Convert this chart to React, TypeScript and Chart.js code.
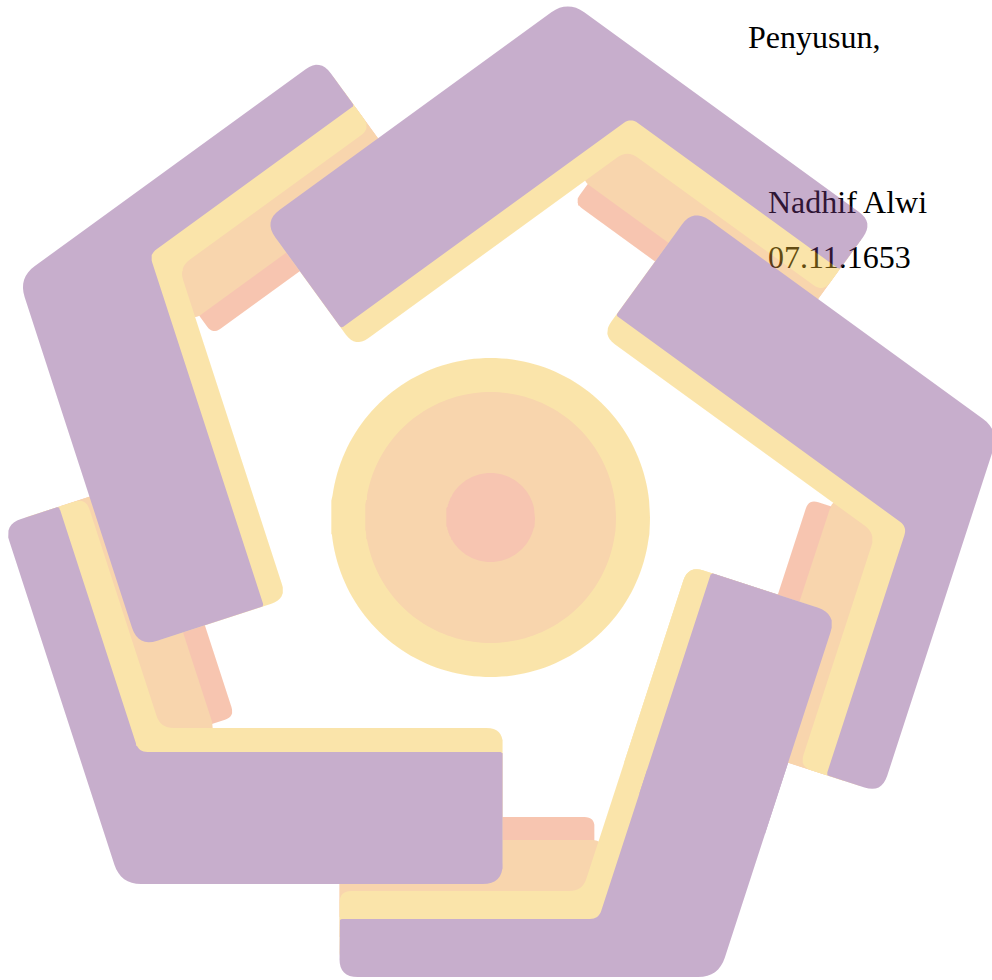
import { useEffect, useRef } from 'react';
import { Chart, registerables } from 'chart.js';

Chart.register(...registerables);

const PAGE_WIDTH = 992;
const PAGE_HEIGHT = 980;

// Five bent arms of the emblem: bottom, lower-left, upper-left, top, right
const armNames = ['bottom', 'lower-left', 'upper-left', 'top', 'right'];
const armCornerX = [718.5, 120.7, 18.4, 567.8, 999.3];
const armCornerY = [977, 884, 277.9, 0.4, 430.7];
const armTurnDeg = [0, 72, 144, 216, 288];
const thinLegLength = [379, 378, 373, 378, 381];
const thickLegLength = [382, 382, 388, 376, 378];

// Layers of each arm, back to front
const layerNames = ['salmon', 'peach', 'yellow', 'purple'];
const layerInk = ['rgb(237,113,60)', 'rgb(238,153,53)', 'rgb(245,190,45)', 'rgb(118,55,130)'];
const thinBandFrom = [60, 40, 15, 0];
const thinBandTo = [160, 137, 86, 58];
const thinBandStart = [124, 116, 0, 0];
const thickBandFrom = [0, 0, 15, 0];
const thickBandTo = [0, 0, 156, 132];
const thickRedrawStart = [0, 0, 175, 150];

// Central disc
const ringNames = ['outer', 'middle', 'core'];
const ringRadius = [159.5, 125.5, 44.5];
const ringInk = ['rgb(245,190,45)', 'rgb(238,152,53)', 'rgb(236,112,62)'];
const ringCenterX = 490.5;
const ringCenterY = 517.5;

// Signature text
const signatureLines = ['Penyusun,', 'Nadhif Alwi', '07.11.1653'];
const signatureLeft = [748, 768, 768];
const signatureBaseline = [47.7, 212.3, 267.7];

const WATERMARK_OPACITY = 0.4;

type Pt = { x: number; y: number };
const rad = (d: number) => (d * Math.PI) / 180;
const turn = (v: Pt, deg: number): Pt => {
  const c = Math.cos(rad(deg));
  const s = Math.sin(rad(deg));
  return { x: v.x * c - v.y * s, y: v.x * s + v.y * c };
};

function frame(i: number) {
  const a = rad(72);
  const phi = armTurnDeg[i];
  return {
    v: { x: armCornerX[i], y: armCornerY[i] },
    t: turn({ x: -1, y: 0 }, phi),
    nt: turn({ x: 0, y: -1 }, phi),
    h: turn({ x: Math.cos(a), y: -Math.sin(a) }, phi),
    nh: turn({ x: -Math.sin(a), y: -Math.cos(a) }, phi),
  };
}
type Frame = ReturnType<typeof frame>;

const along = (f: Frame, dir: Pt, s: number, n: Pt, o: number): Pt => ({
  x: f.v.x + dir.x * s + n.x * o,
  y: f.v.y + dir.y * s + n.y * o,
});

function cornerAt(f: Frame, oT: number, oH: number): Pt {
  const det = f.nt.x * f.nh.y - f.nt.y * f.nh.x;
  const dx = (oT * f.nh.y - f.nt.y * oH) / det;
  const dy = (f.nt.x * oH - f.nh.x * oT) / det;
  return { x: f.v.x + dx, y: f.v.y + dy };
}

function rounded(pts: Pt[], radii: number[], steps = 8): Pt[] {
  const out: Pt[] = [];
  const n = pts.length;
  for (let i = 0; i < n; i++) {
    const v = pts[i];
    const p = pts[(i - 1 + n) % n];
    const q = pts[(i + 1) % n];
    const r = radii[i] || 0;
    if (r <= 0) {
      out.push({ x: v.x, y: v.y });
      continue;
    }
    const lp = Math.hypot(p.x - v.x, p.y - v.y);
    const lq = Math.hypot(q.x - v.x, q.y - v.y);
    const a = { x: (p.x - v.x) / lp, y: (p.y - v.y) / lp };
    const b = { x: (q.x - v.x) / lq, y: (q.y - v.y) / lq };
    const cos = Math.max(-1, Math.min(1, a.x * b.x + a.y * b.y));
    const th = Math.acos(cos);
    let d = r / Math.tan(th / 2);
    d = Math.min(d, lp / 2, lq / 2);
    const t1 = { x: v.x + a.x * d, y: v.y + a.y * d };
    const t2 = { x: v.x + b.x * d, y: v.y + b.y * d };
    for (let k = 0; k <= steps; k++) {
      const u = k / steps;
      out.push({
        x: (1 - u) * (1 - u) * t1.x + 2 * u * (1 - u) * v.x + u * u * t2.x,
        y: (1 - u) * (1 - u) * t1.y + 2 * u * (1 - u) * v.y + u * u * t2.y,
      });
    }
  }
  out.push({ ...out[0] });
  return out;
}

function chevron(i: number, layer: number): Pt[] {
  const f = frame(i);
  const LT = thinLegLength[i];
  const LH = thickLegLength[i];
  const aT = thinBandFrom[layer];
  const bT = thinBandTo[layer];
  const aH = thickBandFrom[layer];
  const bH = thickBandTo[layer];
  const pts = [
    along(f, f.t, LT, f.nt, aT),
    cornerAt(f, aT, aH),
    along(f, f.h, LH, f.nh, aH),
    along(f, f.h, LH, f.nh, bH),
    cornerAt(f, bT, bH),
    along(f, f.t, LT, f.nt, bT),
  ];
  const radii = layer === 3 ? [18, 28, 20, 3, 12, 3] : [10, 18, 10, 16, 18, 12];
  return rounded(pts, radii);
}

function thinBand(i: number, layer: number): Pt[] {
  const f = frame(i);
  const s0 = thinBandStart[layer];
  const LT = thinLegLength[i];
  const a = thinBandFrom[layer];
  const b = thinBandTo[layer];
  const pts = [
    along(f, f.t, s0, f.nt, a),
    along(f, f.t, LT, f.nt, a),
    along(f, f.t, LT, f.nt, b),
    along(f, f.t, s0, f.nt, b),
  ];
  return rounded(pts, [0, 0, 12, 10]);
}

function thickBand(i: number, layer: number): Pt[] {
  const f = frame(i);
  const s0 = thickRedrawStart[layer];
  const LH = thickLegLength[i];
  const a = thickBandFrom[layer];
  const b = thickBandTo[layer];
  const pts = [
    along(f, f.h, s0, f.nh, a),
    along(f, f.h, LH, f.nh, a),
    along(f, f.h, LH, f.nh, b),
    along(f, f.h, s0, f.nh, b),
  ];
  const radii = layer === 3 ? [0, 20, 3, 0] : [0, 10, 16, 0];
  return rounded(pts, radii);
}

function ring(r: number): Pt[] {
  const pts: Pt[] = [];
  const n = 180;
  for (let k = 0; k <= n; k++) {
    const a = (k / n) * Math.PI * 2;
    pts.push({ x: ringCenterX + r * Math.cos(a), y: ringCenterY + r * Math.sin(a) });
  }
  return pts;
}

type Shape = { name: string; color: string; points: Pt[] };

function buildShapes(): Shape[] {
  const shapes: Shape[] = [];
  ringRadius.forEach((r, j) => shapes.push({ name: 'ring ' + ringNames[j], color: ringInk[j], points: ring(r) }));
  armNames.forEach((arm, i) => {
    shapes.push({ name: arm + ' ' + layerNames[0], color: layerInk[0], points: thinBand(i, 0) });
    shapes.push({ name: arm + ' ' + layerNames[1], color: layerInk[1], points: thinBand(i, 1) });
    shapes.push({ name: arm + ' ' + layerNames[2], color: layerInk[2], points: chevron(i, 2) });
    shapes.push({ name: arm + ' ' + layerNames[3], color: layerInk[3], points: chevron(i, 3) });
  });
  // the first arm's thick end lies over the last arm's thin leg
  shapes.push({ name: armNames[0] + ' end ' + layerNames[2], color: layerInk[2], points: thickBand(0, 2) });
  shapes.push({ name: armNames[0] + ' end ' + layerNames[3], color: layerInk[3], points: thickBand(0, 3) });
  return shapes;
}

export default function App() {
  const canvasRef = useRef<HTMLCanvasElement | null>(null);

  useEffect(() => {
    const canvas = canvasRef.current;
    if (!canvas) return;
    const shapes = buildShapes().reverse();
    const chart = new Chart(canvas, {
      type: 'line',
      data: {
        datasets: shapes.map((s) => ({
          label: s.name,
          data: s.points,
          fill: 'shape',
          backgroundColor: s.color,
          borderColor: 'rgba(0,0,0,0)',
          borderWidth: 0,
          pointRadius: 0,
          pointHoverRadius: 0,
          pointHitRadius: 0,
          tension: 0,
        })),
      } as any,
      options: {
        animation: false,
        responsive: false,
        events: [],
        layout: { padding: 0 },
        plugins: {
          legend: { display: false },
          tooltip: { enabled: false },
        },
        scales: {
          x: { type: 'linear', min: 0, max: PAGE_WIDTH, display: false },
          y: { type: 'linear', min: 0, max: PAGE_HEIGHT, reverse: true, display: false },
        },
      } as any,
    });
    return () => chart.destroy();
  }, []);

  return (
    <div
      style={{
        position: 'fixed',
        left: 0,
        top: 0,
        width: PAGE_WIDTH,
        height: PAGE_HEIGHT,
        background: '#ffffff',
        overflow: 'hidden',
      }}
    >
      {signatureLines.map((line, i) => (
        <div
          key={i}
          style={{
            position: 'absolute',
            left: signatureLeft[i],
            top: signatureBaseline[i] - 26.8,
            fontFamily: '"Liberation Serif", "Times New Roman", serif',
            fontSize: 32,
            lineHeight: '32px',
            color: '#000000',
            whiteSpace: 'nowrap',
          }}
        >
          {line}
        </div>
      ))}
      <canvas
        ref={canvasRef}
        width={PAGE_WIDTH}
        height={PAGE_HEIGHT}
        style={{
          position: 'absolute',
          left: 0,
          top: 0,
          width: PAGE_WIDTH,
          height: PAGE_HEIGHT,
          opacity: WATERMARK_OPACITY,
          pointerEvents: 'none',
        }}
      />
    </div>
  );
}
